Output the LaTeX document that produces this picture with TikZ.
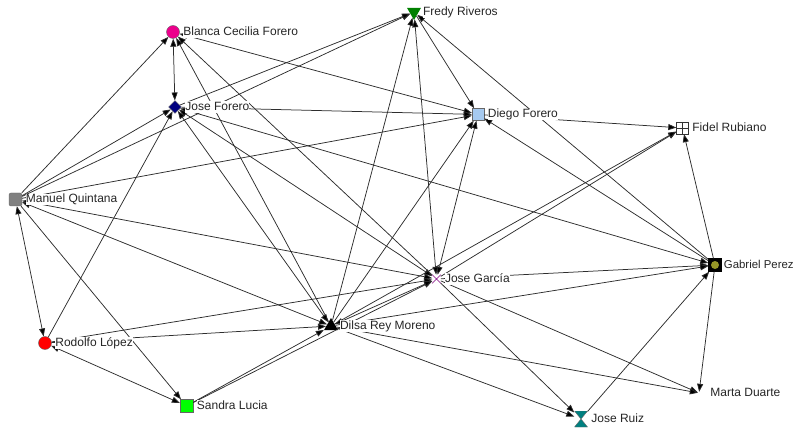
\documentclass[tikz,border=0pt]{standalone}
\usepackage{fontspec}
\setmainfont{Liberation Sans}
\usetikzlibrary{arrows.meta,shapes.geometric,shapes.misc,positioning}
\definecolor{lightBlue}{RGB}{166,202,240}
\definecolor{darkGreen}{RGB}{0,128,0}
\definecolor{limeGreen}{RGB}{0,255,0}
\definecolor{tealHour}{RGB}{0,128,128}
\definecolor{oliveDot}{RGB}{150,150,40}
\definecolor{edgeGray}{RGB}{45,45,45}
\tikzstyle{vertex}=[inner sep = 0pt]
\tikzstyle{arc}=[draw = edgeGray, line width = 0.75pt, -{Triangle[length=8pt,width=6pt,fill=black]}]
\tikzstyle{mutual}=[draw = edgeGray, line width = 0.75pt, {Triangle[length=8pt,width=6pt,fill=black]}-{Triangle[length=8pt,width=6pt,fill=black]}]

\begin{document}
\begin{tikzpicture}[x = 1pt, y = -1pt]
\tikzstyle{nameStyle}=[font = \fontsize{12}{14}\selectfont, text = black!85, fill = white, inner sep = 0pt, text height = 8.6pt, text depth = 2.5pt]
\tikzstyle{circleStyle}=[vertex, shape = circle, minimum size = 13pt, draw = black!60]
\tikzstyle{squareStyle}=[vertex, shape = rectangle, minimum size = 13pt, draw = black!60]
\tikzstyle{triStyle}=[vertex, regular polygon, regular polygon sides = 3, minimum size = 16pt]
\useasboundingbox (0,0) rectangle (797,430);
% actors
\node[squareStyle, rounded corners = 2pt, fill = gray] (v0) at (15.5,199.5) {};
\node[circleStyle, fill = magenta] (v1) at (173,32) {};
\node[vertex, diamond, minimum size = 13pt, fill = blue!50!black, draw = black!60] (v2) at (175,107) {};
\node[triStyle, shape border rotate = 180, fill = darkGreen] (v3) at (414,12) {};
\node[squareStyle, minimum size = 12pt, fill = lightBlue] (v4) at (478,114.5) {};
\node[squareStyle, minimum size = 12pt, fill = white, draw = black!80,
  path picture = {\draw[black!80] (path picture bounding box.north) -- (path picture bounding box.south)
    (path picture bounding box.west) -- (path picture bounding box.east);}] (v5) at (682.5,128) {};
\node[vertex, cross out, draw = violet, line width = 0.6pt, minimum size = 8pt] (v6) at (436.5,279) {};
\node[squareStyle, fill = black, draw = black,
  path picture = {\fill[oliveDot] (path picture bounding box.center) circle (4pt);}] (v7) at (715,265) {};
\node[triStyle, fill = black] (v8) at (331,326) {};
\node[circleStyle, fill = red] (v9) at (45,343) {};
\node[squareStyle, fill = limeGreen] (v10) at (186.5,406) {};
\node[vertex, rectangle, minimum width = 13pt, minimum height = 16pt,
  path picture = {\filldraw[fill = tealHour, draw = black!60] (path picture bounding box.north west) -- (path picture bounding box.north east)
    -- (path picture bounding box.south west) -- (path picture bounding box.south east) -- cycle;}] (v11) at (581,419) {};
\node[vertex, circle, minimum size = 2pt] (v12) at (699,393) {};
% ties
\draw[arc] (v0) -- (v1);
\draw[arc] (v0) -- (v2);
\draw[arc] (v0) -- (v3);
\draw[arc] (v0) -- (v4);
\draw[mutual] (v0) -- (v6);
\draw[mutual] (v0) -- (v8);
\draw[arc] (v0) -- (v10);
\draw[mutual] (v0) -- (v9);
\draw[mutual] (v1) -- (v2);
\draw[mutual] (v1) -- (v4);
\draw[arc] (v8) -- (v1);
\draw[arc] (v6) -- (v1);
\draw[arc] (v2) -- (v3);
\draw[arc] (v2) -- (v4);
\draw[mutual] (v2) -- (v6);
\draw[mutual] (v2) -- (v8);
\draw[mutual] (v2) -- (v7);
\draw[arc] (v9) -- (v2);
\draw[arc] (v3) -- (v4);
\draw[mutual] (v3) -- (v6);
\draw[arc] (v8) -- (v3);
\draw[arc] (v7) -- (v3);
\draw[arc] (v4) -- (v5);
\draw[arc] (v8) -- (v4);
\draw[mutual] (v4) -- (v6);
\draw[arc] (v7) -- (v4);
\draw[arc] (v6) -- (v5);
\draw[arc] (v8) -- (v5);
\draw[arc] (v7) -- (v5);
\draw[arc] (v6) -- (v7);
\draw[arc] (v8) -- (v7);
\draw[arc] (v11) -- (v7);
\draw[arc] (v7) -- (v12);
\draw[arc] (v6) -- (v12);
\draw[arc] (v8) -- (v12);
\draw[arc] (v8) -- (v11);
\draw[arc] (v6) -- (v11);
\draw[arc] (v9) -- (v8);
\draw[arc] (v9) -- (v6);
\draw[mutual] (v9) -- (v10);
\draw[arc] (v10) -- (v8);
\draw[arc] (v10) -- (v6);
\draw[mutual] (v8) -- (v6);
% names
\node[nameStyle, right = 3.5pt of v0] (l0) {Manuel Quintana};
\node[nameStyle, right = 3.5pt of v1] (l1) {Blanca Cecilia Forero};
\node[nameStyle, right = 3.5pt of v2] (l2) {Jose Forero};
\node[nameStyle, right = 4pt of v3] (l3) {Fredy Riveros};
\node[nameStyle, right = 3.5pt of v4] (l4) {Diego Forero};
\node[nameStyle, right = 3.5pt of v5] (l5) {Fidel Rubiano};
\node[nameStyle, right = 4pt of v6] (l6) {Jose García};
\node[nameStyle, right = 2pt of v7, font = \fontsize{11.4}{14}\selectfont] (l7) {Gabriel Perez};
\node[nameStyle, right = 4pt of v8] (l8) {Dilsa Rey Moreno};
\node[nameStyle, right = 3.5pt of v9] (l9) {Rodolfo López};
\node[nameStyle, right = 3.5pt of v10] (l10) {Sandra Lucia};
\node[nameStyle, right = 3.5pt of v11] (l11) {Jose Ruiz};
\node[nameStyle, right = 10pt of v12] (l12) {Marta Duarte};
\end{tikzpicture}
\end{document}
